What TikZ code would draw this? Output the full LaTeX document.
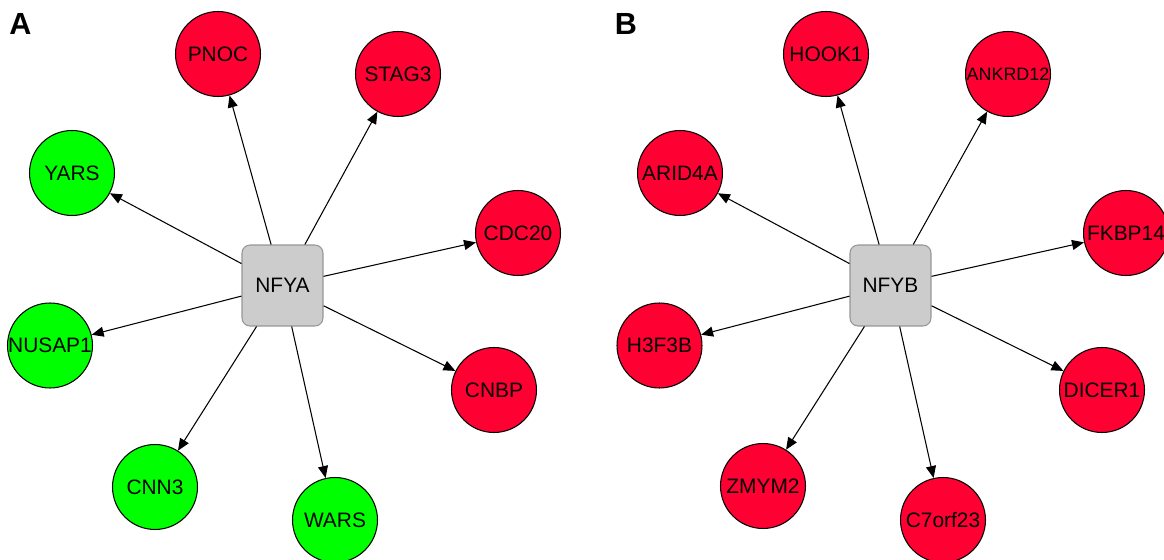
\documentclass[tikz,border=0pt]{standalone}
\usepackage{fontspec}
\setmainfont{Liberation Sans}
\usepackage{tikz}
\usetikzlibrary{arrows.meta}
\definecolor{upred}{RGB}{255,0,51}
\definecolor{downgreen}{RGB}{0,255,0}
\definecolor{hubfill}{RGB}{204,204,204}
\definecolor{hubline}{RGB}{150,150,150}
\tikzset{
  hub/.style={draw=hubline, fill=hubfill, rounded corners=0.16cm, minimum size=1.62cm, inner sep=0pt, line width=0.6pt, font=\fontsize{11.9}{14}\selectfont},
  gene/.style={circle, draw=black, line width=0.6pt, minimum size=1.7cm, inner sep=0pt, font=\fontsize{11.9}{14}\selectfont},
  upgene/.style={gene, fill=upred},
  downgene/.style={gene, fill=downgreen},
  regedge/.style={line width=0.6pt, -{Triangle[length=0.24cm, width=0.2cm]}},
  panel/.style={font=\fontsize{17.4}{20}\selectfont\bfseries}
}

\begin{document}
\begin{tikzpicture}[x=0.02cm, y=-0.02cm]
\useasboundingbox (0,0) rectangle (1164,560);
% panel labels
\node[panel] (labA) at (20.5,24) {A};
\node[panel] (labB) at (626,24) {B};
% panel A
\node[hub] (NFYA) at (282.5,285.5) {NFYA};
\node[upgene] (PNOC) at (218,54) {PNOC};
\node[upgene] (STAG3) at (398,74) {STAG3};
\node[downgene] (YARS) at (72,173) {YARS};
\node[upgene] (CDC20) at (518,233) {CDC20};
\node[downgene] (NUSAP1) at (50,345.5) {NUSAP1};
\node[upgene] (CNBP) at (494,390) {CNBP};
\node[downgene] (CNN3) at (155,487) {CNN3};
\node[downgene] (WARS) at (335,520) {WARS};
\foreach \t in {PNOC,STAG3,YARS,CDC20,NUSAP1,CNBP,CNN3,WARS} {
\draw[regedge] (NFYA) -- (\t);
}
% panel B
\node[hub] (NFYB) at (890.5,285.5) {NFYB};
\node[upgene] (HOOK1) at (826,54) {HOOK1};
\node[upgene, font=\fontsize{10.2}{12}\selectfont] (ANKRD12) at (1008,74) {ANKRD12};
\node[upgene] (ARID4A) at (680,173) {ARID4A};
\node[upgene] (FKBP14) at (1126,233) {FKBP14};
\node[upgene] (H3F3B) at (659.5,345.5) {H3F3B};
\node[upgene] (DICER1) at (1102,390) {DICER1};
\node[upgene] (ZMYM2) at (763,486) {ZMYM2};
\node[upgene] (C7orf23) at (943,520) {C7orf23};
\foreach \t in {HOOK1,ANKRD12,ARID4A,FKBP14,H3F3B,DICER1,ZMYM2,C7orf23} {
\draw[regedge] (NFYB) -- (\t);
}
\end{tikzpicture}
\end{document}
